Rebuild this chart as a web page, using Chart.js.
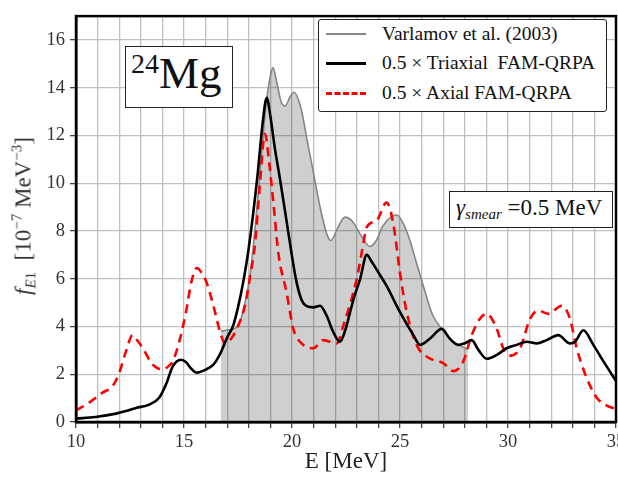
<!DOCTYPE html>
<html>
<head>
<meta charset="utf-8">
<script src="https://cdn.jsdelivr.net/npm/chart.js@4"></script>
<style>
  html, body { margin: 0; padding: 0; background: #fff; }
  #wrap { position: relative; width: 618px; height: 477px; font-family: "Liberation Serif", "DejaVu Serif", serif; color: #111; }
  canvas { position: absolute; left: 0; top: 0; }
  .box { position: absolute; background: #fff; border: 1.5px solid #222; box-sizing: border-box; }
  .ytitle { position: absolute; left: 24px; top: 216px; transform: translate(-50%, -50%) rotate(-90deg); font-size: 23px; white-space: nowrap; color: #333; }
  .ytitle sub { font-size: 15px; vertical-align: -5px; }
  .ytitle sup { font-size: 15px; vertical-align: 9px; }
  .leg-row { position: absolute; left: 0; height: 26px; font-size: 19.5px; line-height: 26px; white-space: nowrap; }
  .leg-row span.sw { position: absolute; left: 7px; top: 12px; width: 40px; height: 0; }
  .leg-row span.tx { position: absolute; left: 63px; top: 0; }
</style>
</head>
<body>
<div id="wrap">
  <canvas id="chart" width="618" height="477"></canvas>

  <div class="ytitle"><i>f</i><sub><i>E</i>1</sub>&nbsp;&nbsp;[10<sup>−7</sup> MeV<sup>−3</sup>]</div>

  <div class="box" style="left:125px; top:46px; width:108px; height:62px;">
    <div style="position:absolute; left:5px; top:0px; white-space:nowrap;"><span style="font-size:28px; vertical-align:15px;">24</span><span style="font-size:45px;">Mg</span></div>
  </div>

  <div class="box" style="left:318px; top:19px; width:289px; height:93px; border-radius:3px;">
    <div class="leg-row" style="top:1px;"><span class="sw" style="border-top:2px solid #888;"></span><span class="tx">Varlamov et al. (2003)</span></div>
    <div class="leg-row" style="top:30px;"><span class="sw" style="border-top:3px solid #000;"></span><span class="tx">0.5 × Triaxial&nbsp; FAM-QRPA</span></div>
    <div class="leg-row" style="top:60px;"><span class="sw" style="border-top:3px dashed #f00;"></span><span class="tx">0.5 × Axial FAM-QRPA</span></div>
  </div>

  <div class="box" style="left:449px; top:191px; width:164px; height:37px;">
    <div style="position:absolute; left:6px; top:3px; font-size:23px; white-space:nowrap;"><i>γ</i><sub style="font-size:15px; vertical-align:-4px;"><i>smear</i></sub> =0.5 MeV</div>
  </div>
</div>

<script>
// Varlamov et al. (2003) experimental photoabsorption
const varE = [16.7, 17.0, 17.3, 17.55, 17.8, 18.05, 18.3, 18.55, 18.8, 19.0, 19.12, 19.3, 19.5, 19.68, 19.9, 20.09, 20.4, 20.7, 21.0, 21.3, 21.6, 21.8, 22.1, 22.45, 22.8, 23.2, 23.6, 23.9, 24.2, 24.6, 24.86, 25.1, 25.46, 25.75, 26.08, 26.5, 26.93, 27.4, 27.78, 28.15];
const varF = [3.8, 3.85, 3.9, 4.1, 4.9, 6.1, 8.2, 10.8, 13.3, 14.5, 14.84, 14.2, 13.4, 13.23, 13.6, 13.81, 13.2, 11.8, 10.4, 9.0, 7.9, 7.6, 8.1, 8.58, 8.4, 7.8, 7.35, 7.6, 8.2, 8.6, 8.67, 8.4, 7.6, 6.7, 5.7, 4.5, 3.9, 3.38, 3.2, 3.03];

// 0.5 x Triaxial FAM-QRPA
const triE = [10.0, 10.9, 11.85, 12.4, 12.78, 13.39, 13.86, 14.17, 14.48, 14.86, 15.1, 15.32, 15.59, 15.9, 16.36, 16.7, 16.98, 17.28, 17.5, 17.75, 18.0, 18.4, 18.65, 18.83, 19.0, 19.2, 19.44, 19.7, 19.98, 20.2, 20.45, 20.68, 20.99, 21.3, 21.6, 21.91, 22.22, 22.45, 22.69, 22.9, 23.15, 23.46, 23.7, 23.92, 24.38, 25.0, 25.62, 25.93, 26.39, 26.93, 27.3, 27.7, 28.0, 28.32, 28.63, 29.01, 29.48, 29.94, 30.4, 30.86, 31.33, 31.79, 32.33, 32.87, 33.1, 33.49, 33.95, 34.42, 35.0];
const triF = [0.14, 0.21, 0.35, 0.48, 0.59, 0.73, 1.03, 1.58, 2.33, 2.61, 2.5, 2.25, 2.06, 2.15, 2.4, 2.9, 3.5, 4.05, 4.8, 5.9, 7.3, 10.3, 12.6, 13.58, 12.8, 11.5, 10.2, 8.7, 7.06, 5.9, 5.1, 4.85, 4.8, 4.87, 4.46, 3.77, 3.36, 3.8, 4.6, 5.3, 5.97, 7.0, 6.7, 6.38, 5.7, 4.6, 3.64, 3.23, 3.5, 3.9, 3.5, 3.23, 3.3, 3.43, 3.02, 2.65, 2.81, 3.09, 3.23, 3.36, 3.29, 3.43, 3.64, 3.29, 3.36, 3.84, 3.23, 2.54, 1.72];

// 0.5 x Axial FAM-QRPA
const axE = [10.0, 10.62, 11.23, 11.7, 12.0, 12.31, 12.62, 12.85, 13.09, 13.55, 14.01, 14.3, 14.48, 14.78, 15.09, 15.35, 15.59, 15.85, 16.05, 16.36, 16.67, 16.9, 17.15, 17.44, 17.82, 18.06, 18.29, 18.5, 18.75, 18.95, 19.13, 19.37, 19.75, 20.06, 20.37, 20.99, 21.45, 22.07, 22.38, 22.99, 23.25, 23.46, 23.92, 24.38, 24.69, 25.0, 25.31, 25.77, 26.3, 27.0, 27.47, 27.93, 28.32, 28.7, 29.01, 29.48, 29.78, 30.09, 30.56, 31.02, 31.4, 31.87, 32.49, 32.87, 33.18, 33.64, 34.1, 34.57, 35.0];
const axF = [0.48, 0.82, 1.23, 1.51, 2.06, 2.95, 3.64, 3.4, 3.09, 2.4, 2.2, 2.35, 2.54, 3.36, 4.6, 5.9, 6.45, 6.2, 5.83, 4.87, 3.77, 3.29, 3.45, 3.9, 4.87, 6.1, 7.48, 9.8, 12.07, 10.8, 9.26, 7.06, 5.42, 3.9, 3.36, 3.09, 3.43, 3.29, 4.05, 5.97, 7.2, 8.16, 8.44, 9.19, 8.3, 6.24, 4.6, 3.23, 2.7, 2.47, 2.13, 2.54, 3.64, 4.32, 4.53, 3.9, 3.09, 2.78, 3.09, 4.32, 4.67, 4.53, 4.87, 4.32, 3.09, 1.85, 1.03, 0.69, 0.55];

const xLabelStep = 5;
const yStep = 2;

function pts(xs, ys) { return xs.map((x, i) => ({ x: x, y: ys[i] })); }

// thick frame round the plot area
const framePlugin = {
  id: 'frame',
  afterDatasetsDraw(chart) {
    const a = chart.chartArea, ctx = chart.ctx;
    ctx.save();
    ctx.strokeStyle = '#000';
    ctx.lineWidth = 2.5;
    ctx.strokeRect(a.left, a.top, a.right - a.left, a.bottom - a.top);
    ctx.restore();
  }
};

const font = { family: '"Liberation Serif", "DejaVu Serif", serif', size: 18.5 };

new Chart(document.getElementById('chart'), {
  type: 'line',
  data: {
    datasets: [
      { label: 'Varlamov et al. (2003)', data: pts(varE, varF), borderColor: '#858585', borderWidth: 1.6,
        backgroundColor: 'rgba(0,0,0,0.19)', fill: 'origin', pointRadius: 0, cubicInterpolationMode: 'monotone', order: 3 },
      { label: '0.5 × Axial FAM-QRPA', data: pts(axE, axF), borderColor: '#ff0000', borderWidth: 2.6,
        borderDash: [9, 6], fill: false, pointRadius: 0, cubicInterpolationMode: 'monotone', order: 2 },
      { label: '0.5 × Triaxial  FAM-QRPA', data: pts(triE, triF), borderColor: '#000', borderWidth: 2.6,
        fill: false, pointRadius: 0, cubicInterpolationMode: 'monotone', order: 1 }
    ]
  },
  options: {
    responsive: false,
    animation: false,
    layout: { padding: { top: 7, right: 2, left: 0, bottom: 0 } },
    plugins: { legend: { display: false }, tooltip: { enabled: false } },
    scales: {
      x: {
        type: 'linear', min: 10, max: 35,
        ticks: { stepSize: 1, autoSkip: false, maxRotation: 0, padding: 3, color: '#333', font: font,
          callback: v => (v % xLabelStep === 0 ? String(v) : '') },
        grid: { color: '#bfbfbf', lineWidth: 1.3, tickLength: 6, tickColor: '#444' },
        border: { color: '#000', width: 2.5 },
        title: { display: true, text: 'E [MeV]', color: '#222', padding: { top: 0, bottom: 1 },
          font: { family: font.family, size: 23 } },
        afterFit(s) { s.height = 55; s.paddingLeft = 0; s.paddingRight = 0; }
      },
      y: {
        min: 0, max: 17,
        ticks: { stepSize: yStep, padding: 5, color: '#333', font: font },
        afterBuildTicks(s) { s.ticks = s.ticks.filter(t => t.value % yStep === 0); },
        grid: { color: '#bfbfbf', lineWidth: 1.3, tickLength: 6, tickColor: '#444' },
        border: { color: '#000', width: 2.5 },
        afterFit(s) { s.width = 76; }
      }
    }
  },
  plugins: [framePlugin]
});
</script>
</body>
</html>
